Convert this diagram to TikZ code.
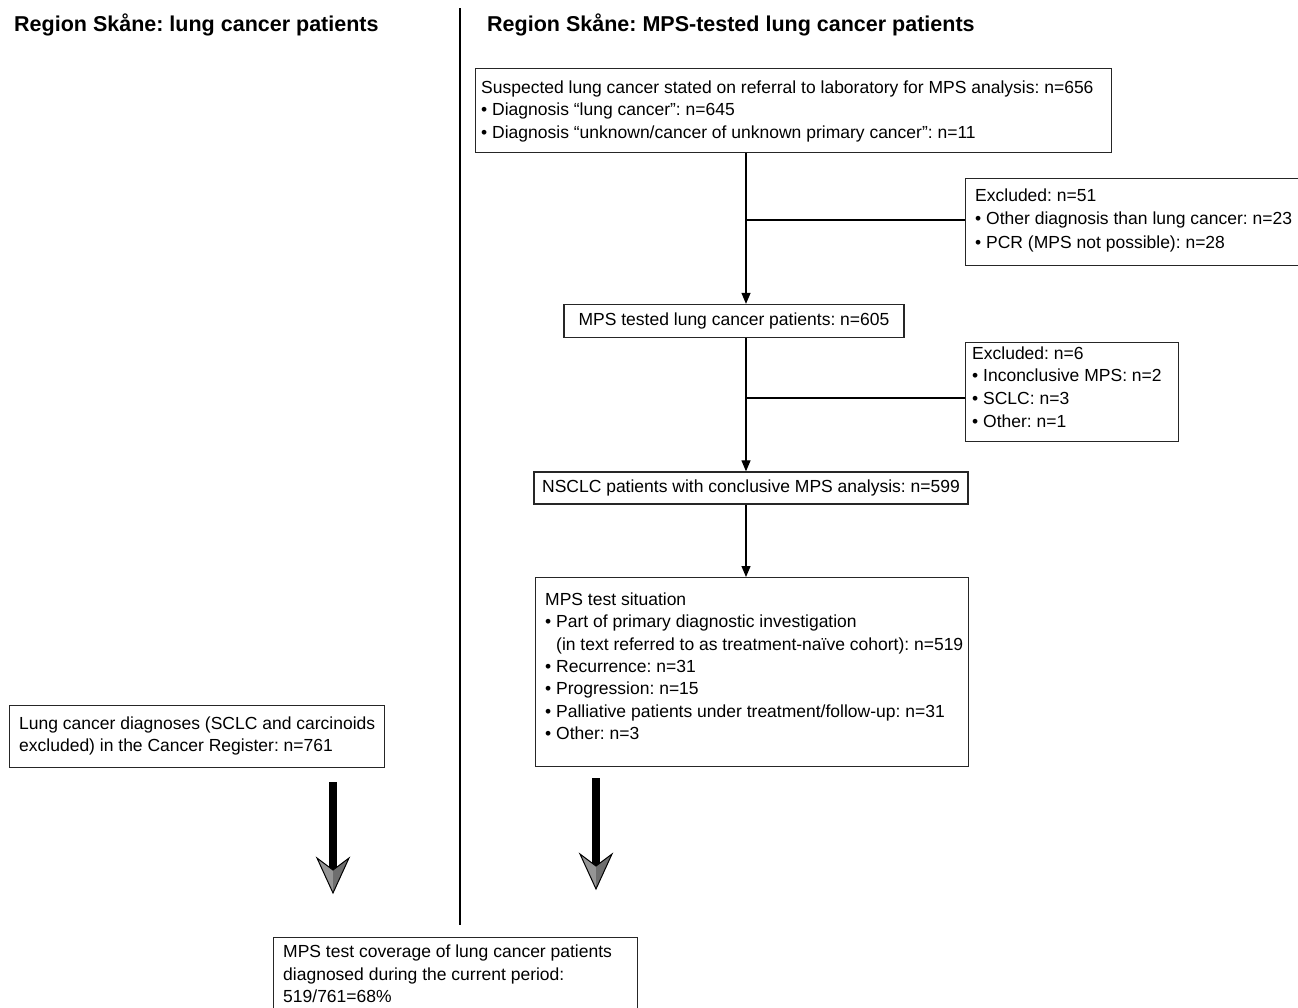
\documentclass[tikz,border=0pt]{standalone}
\usepackage{fontspec}
\setmainfont{Liberation Sans}
\usetikzlibrary{arrows.meta}
\frenchspacing
\newcommand{\fsn}{\fontsize{17.5pt}{22.5pt}\selectfont}
\newcommand{\fsh}{\bfseries\fontsize{21.5pt}{26pt}\selectfont}
\newcommand{\ind}{\phantom{• }}
\definecolor{headlight}{HTML}{959595}
\definecolor{headdark}{HTML}{6E6E6E}
\tikzset{
  box/.style={draw=black!85, line width=1.3pt, inner sep=0pt, anchor=north west},
  sbox/.style={draw=black!85, line width=1.3pt, inner sep=0pt, font=\fsn},
  txt/.style={anchor=north west, inner sep=0pt, align=left, font=\fsn},
  hdr/.style={anchor=base west, inner sep=0pt, font=\fsh},
  conn/.style={line width=1.2pt},
  arr/.style={conn, -{Triangle[length=11pt,width=9pt]}},
  bigarrow/.pic={
    \fill[black] (-3.8,0) rectangle (3.8,88);
    \fill[headlight] (-16,76) -- (0,88) -- (0,111) -- cycle;
    \fill[headdark] (16,76) -- (0,88) -- (0,111) -- cycle;
    \draw[line width=1pt, line join=miter] (-16,76) -- (0,88) -- (16,76) -- (0,111) -- cycle;
  }
}
\begin{document}
\begin{tikzpicture}[x=1pt,y=-1pt]
\useasboundingbox (0,0) rectangle (1298,1007);
% headers and divider
\node[hdr] (h1) at (14,31.5) {Region Skåne: lung cancer patients};
\node[hdr] (h2) at (487,31.5) {Region Skåne: MPS-tested lung cancer patients};
\draw[line width=2.6pt] (460,8) -- (460,925);
% boxes
\node[box, minimum width=636, minimum height=84] (top) at (475,68) {};
\node[txt] (toptxt) at (481,80.5) {Suspected lung cancer stated on referral to laboratory for MPS analysis: n=656\\
• Diagnosis “lung cancer”: n=645\\
• Diagnosis “unknown/cancer of unknown primary cancer”: n=11};
\node[box, minimum width=345, minimum height=87] (ex1) at (965,178) {};
\node[txt, font=\fontsize{17.5pt}{23.5pt}\selectfont] (ex1txt) at (975,188.5) {Excluded: n=51\\
• Other diagnosis than lung cancer: n=23\\
• PCR (MPS not possible): n=28};
\node[sbox, minimum width=340, minimum height=33] (mps) at (734,321) {MPS tested lung cancer patients: n=605};
\node[box, minimum width=213, minimum height=99] (ex2) at (965,342) {};
\node[txt, font=\fontsize{17.5pt}{22.6pt}\selectfont] (ex2txt) at (972,346.5) {Excluded: n=6\\
• Inconclusive MPS: n=2\\
• SCLC: n=3\\
• Other: n=1};
\node[sbox, minimum width=434, minimum height=32] (ns) at (751,488) {NSCLC patients with conclusive MPS analysis: n=599};
\node[box, minimum width=433, minimum height=189] (sit) at (535,577) {};
\node[txt, font=\fontsize{17.5pt}{22.4pt}\selectfont] (sittxt) at (545,592.5) {MPS test situation\\
• Part of primary diagnostic investigation\\
\ind(in text referred to as treatment-naïve cohort): n=519\\
• Recurrence: n=31\\
• Progression: n=15\\
• Palliative patients under treatment/follow-up: n=31\\
• Other: n=3};
\node[box, minimum width=375, minimum height=62] (lung) at (9,705) {};
\node[txt, font=\fontsize{17.5pt}{22pt}\selectfont] (lungtxt) at (19,717) {Lung cancer diagnoses (SCLC and carcinoids\\
excluded) in the Cancer Register: n=761};
\node[box, minimum width=364, minimum height=90] (cov) at (273,937) {};
\node[txt, font=\fontsize{17.5pt}{22.3pt}\selectfont] (covtxt) at (283,945) {MPS test coverage of lung cancer patients\\
diagnosed during the current period:\\
519/761=68\%};
% connectors
\coordinate (col) at (746,0);
\coordinate (b1) at (746,220);
\coordinate (b2) at (746,398);
\draw[arr] (top.south -| col) -- (mps.north -| col);
\draw[conn] (b1) -- (b1 -| ex1.west);
\draw[arr] (mps.south -| col) -- (ns.north -| col);
\draw[conn] (b2) -- (b2 -| ex2.west);
\draw[arr] (ns.south -| col) -- (sit.north -| col);
% big arrows
\pic at (333,782) {bigarrow};
\pic at (596,778) {bigarrow};
\end{tikzpicture}
\end{document}
